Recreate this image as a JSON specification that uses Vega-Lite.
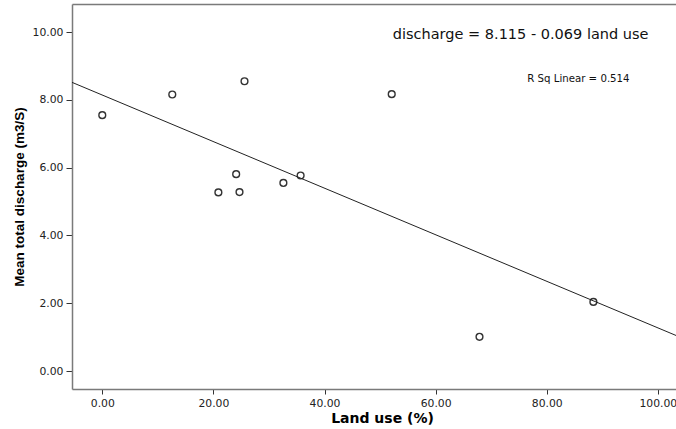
{
  "$schema": "https://vega.github.io/schema/vega-lite/v6.json",
  "autosize": "none",
  "padding": {"left": 72, "top": 4, "right": 0, "bottom": 40},
  "width": 604,
  "height": 385,
  "background": "white",
  "config": {
    "view": {"stroke": null},
    "axis": {"grid": false, "labelFont": "DejaVu Sans", "labelColor": "#222222"}
  },
  "layer": [
    {
      "data": {
        "values": [
          {"land": 0.0, "discharge": 7.55},
          {"land": 12.6, "discharge": 8.16},
          {"land": 25.6, "discharge": 8.55},
          {"land": 24.1, "discharge": 5.81},
          {"land": 20.9, "discharge": 5.27},
          {"land": 24.7, "discharge": 5.28},
          {"land": 32.6, "discharge": 5.55},
          {"land": 35.7, "discharge": 5.77},
          {"land": 52.1, "discharge": 8.17},
          {"land": 88.4, "discharge": 2.04},
          {"land": 67.9, "discharge": 1.01}
        ]
      },
      "layer": [
        {
          "mark": {"type": "point", "shape": "circle", "size": 46, "strokeWidth": 1.4, "color": "#333333", "filled": false, "opacity": 1},
          "encoding": {
            "x": {
              "field": "land", "type": "quantitative",
              "scale": {"domain": [-5.45, 103.27], "nice": false, "zero": false},
              "axis": {
                "orient": "bottom", "values": [0, 20, 40, 60, 80, 100], "format": ".2f",
                "labelFontSize": 10.8, "labelPadding": 3, "tickSize": 5, "tickColor": "#333333",
                "domainColor": "#7a7a7a", "domainWidth": 1.5,
                "title": "Land use (%)", "titleFont": "DejaVu Sans", "titleFontSize": 14, "titleFontWeight": "bold", "titleColor": "#000000",
                "titleX": 310, "titleY": 33, "titleBaseline": "alphabetic", "titleAlign": "center"
              }
            },
            "y": {
              "field": "discharge", "type": "quantitative",
              "scale": {"domain": [-0.53, 10.83], "nice": false, "zero": false},
              "axis": {
                "values": [0, 2, 4, 6, 8, 10], "format": ".2f",
                "labelFontSize": 10.8, "labelPadding": 3, "tickSize": 6, "tickColor": "#333333",
                "domainColor": "#7a7a7a", "domainWidth": 1.5,
                "title": "Mean total discharge (m3/S)", "titleFont": "Liberation Sans", "titleFontSize": 13.5, "titleFontWeight": "bold", "titleColor": "#000000",
                "titleX": -49, "titleY": 192.5, "titleAngle": -90, "titleBaseline": "alphabetic", "titleAlign": "center"
              }
            }
          }
        },
        {
          "transform": [{"regression": "discharge", "on": "land", "extent": [-5.45, 103.27]}],
          "mark": {"type": "line", "color": "#222222", "strokeWidth": 1},
          "encoding": {
            "x": {"field": "land", "type": "quantitative",
              "axis": {"orient": "top", "labels": false, "ticks": false, "title": null, "domainColor": "#7a7a7a", "domainWidth": 1.5}},
            "y": {"field": "discharge", "type": "quantitative"}
          }
        }
      ],
      "resolve": {"axis": {"x": "independent"}}
    },
    {
      "data": {"values": [{"label": "discharge = 8.115 - 0.069 land use", "lx": 75.3, "ly": 9.79}]},
      "mark": {"type": "text", "font": "DejaVu Sans", "fontSize": 14.5, "align": "center", "baseline": "alphabetic", "color": "#111111"},
      "encoding": {
        "text": {"field": "label"},
        "x": {"field": "lx", "type": "quantitative", "axis": null},
        "y": {"field": "ly", "type": "quantitative"}
      }
    },
    {
      "data": {"values": [{"label": "R Sq Linear = 0.514", "lx": 85.7, "ly": 8.53}]},
      "mark": {"type": "text", "font": "DejaVu Sans", "fontSize": 10.2, "align": "center", "baseline": "alphabetic", "color": "#111111"},
      "encoding": {
        "text": {"field": "label"},
        "x": {"field": "lx", "type": "quantitative", "axis": null},
        "y": {"field": "ly", "type": "quantitative"}
      }
    }
  ],
  "resolve": {"axis": {"x": "independent"}}
}
